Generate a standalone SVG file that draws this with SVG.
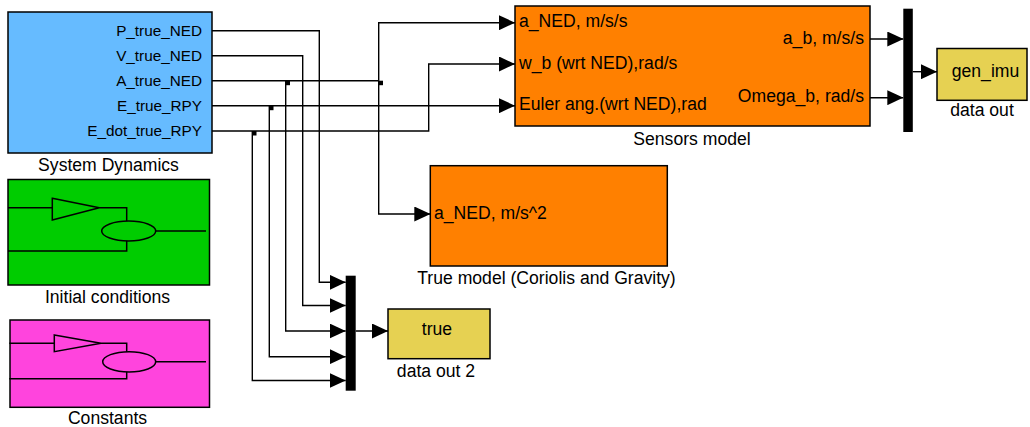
<svg xmlns="http://www.w3.org/2000/svg" width="1030" height="427" viewBox="0 0 1030 427">
  <style>
    text { font-family: "Liberation Sans", Arial, sans-serif; fill: #000; }
    .port { font-size: 15.3px; }
    .lbl { font-size: 17.6px; }
    .blk { stroke: #000; stroke-width: 1.5; }
    .wire { fill: none; stroke: #000; stroke-width: 1.4; }
    .arrow { fill: none; stroke: #000; stroke-width: 1.4; marker-end: url(#head); }
    .icon { fill: none; stroke: #000; stroke-width: 1.5; }
    .mux { fill: #000; }
    .dot { fill: #000; }
  </style>
  <defs>
    <marker id="head" markerUnits="userSpaceOnUse" markerWidth="16" markerHeight="15" refX="16" refY="7.5" orient="auto">
      <path d="M0,0 L16,7.5 L0,15 Z" fill="#000"/>
    </marker>
  </defs>

  <!-- System Dynamics subsystem -->
  <g id="system-dynamics">
    <rect class="blk" x="8" y="12" width="204" height="141" fill="#66BBFF"/>
    <text class="port" x="202" y="35.7" text-anchor="end">P_true_NED</text>
    <text class="port" x="202" y="61" text-anchor="end">V_true_NED</text>
    <text class="port" x="202" y="85.7" text-anchor="end">A_true_NED</text>
    <text class="port" x="202" y="110.7" text-anchor="end">E_true_RPY</text>
    <text class="port" x="202" y="135.7" text-anchor="end">E_dot_true_RPY</text>
    <text class="lbl" x="108.5" y="170.5" text-anchor="middle">System Dynamics</text>
  </g>

  <!-- Initial conditions subsystem -->
  <g id="initial-conditions">
    <rect class="blk" x="8" y="179.5" width="201.5" height="105.5" fill="#00CC00"/>
    <path class="icon" d="M8,207.7 H52.3 M52.3,198.3 L99.3,207.7 L52.3,220 Z M99.3,207.7 H126.7 V221 M8,251 H126.7 V241 M155.7,231 H206"/>
    <ellipse class="icon" cx="128.7" cy="231" rx="27" ry="10"/>
    <text class="lbl" x="107.5" y="303" text-anchor="middle">Initial conditions</text>
  </g>

  <!-- Constants subsystem -->
  <g id="constants">
    <rect class="blk" x="10" y="320" width="199.5" height="87.3" fill="#FF44DD"/>
    <path class="icon" d="M9.3,343.3 H54.3 M54.3,335 L101,343.3 L54.3,351.7 Z M101,343.3 H126.7 V351.7 M9.3,378.7 H126.7 V372 M155.7,361.8 H206"/>
    <ellipse class="icon" cx="129.2" cy="361.8" rx="26.5" ry="10.1"/>
    <text class="lbl" x="107.5" y="424" text-anchor="middle">Constants</text>
  </g>

  <!-- Sensors model subsystem -->
  <g id="sensors-model">
    <rect class="blk" x="515" y="6" width="355" height="120" fill="#FF8000"/>
    <text class="lbl" x="519" y="27">a_NED, m/s/s</text>
    <text class="lbl" x="519" y="68.5">w_b (wrt NED),rad/s</text>
    <text class="lbl" x="519" y="110">Euler ang.(wrt NED),rad</text>
    <text class="lbl" x="864" y="43.5" text-anchor="end">a_b, m/s/s</text>
    <text class="lbl" x="864" y="101.5" text-anchor="end">Omega_b, rad/s</text>
    <text class="lbl" x="692" y="145" text-anchor="middle">Sensors model</text>
  </g>

  <!-- True model subsystem -->
  <g id="true-model">
    <rect class="blk" x="430.3" y="165.7" width="237" height="100.3" fill="#FF8000"/>
    <text class="lbl" x="434" y="218.5">a_NED, m/s^2</text>
    <text class="lbl" x="546.5" y="284" text-anchor="middle">True model (Coriolis and Gravity)</text>
  </g>

  <!-- Mux feeding the true-state logger -->
  <g id="mux-true">
    <rect class="mux" x="345.7" y="275.7" width="10" height="115"/>
  </g>

  <!-- Mux feeding the IMU logger -->
  <g id="mux-imu">
    <rect class="mux" x="903.3" y="8.7" width="9.5" height="123.3"/>
  </g>

  <!-- To Workspace: true -->
  <g id="data-out-2">
    <rect class="blk" x="388" y="309" width="102" height="49.7" fill="#E6D152"/>
    <text class="lbl" x="437" y="335" text-anchor="middle">true</text>
    <text class="lbl" x="436" y="376.7" text-anchor="middle">data out 2</text>
  </g>

  <!-- To Workspace: gen_imu -->
  <g id="data-out">
    <rect class="blk" x="937" y="48.5" width="90" height="51.8" fill="#E6D152"/>
    <text class="lbl" x="985.5" y="76.5" text-anchor="middle">gen_imu</text>
    <text class="lbl" x="982" y="116" text-anchor="middle">data out</text>
  </g>

  <!-- Signal lines -->
  <g id="connectors">
    <path class="arrow" d="M212,30.7 H319.3 V282.3 H345.7"/>
    <path class="arrow" d="M212,55.7 H302.7 V305.5 H345.7"/>
    <path class="wire" d="M212,80.7 H378.7"/>
    <path class="arrow" d="M285.7,80.7 V331 H345.7"/>
    <path class="arrow" d="M378.7,80.7 V22.7 H515"/>
    <path class="arrow" d="M378.7,80.7 V214 H430.3"/>
    <path class="arrow" d="M212,105.7 H515"/>
    <path class="arrow" d="M269.3,105.7 V356.7 H345.7"/>
    <path class="arrow" d="M212,131 H428.7 V64 H515"/>
    <path class="arrow" d="M252.3,131 V380.5 H345.7"/>
    <path class="arrow" d="M870,39 H903.3"/>
    <path class="arrow" d="M870,97.7 H903.3"/>
    <path class="arrow" d="M912.8,71.7 H937"/>
    <path class="arrow" d="M355.7,331 H388"/>
    <rect class="dot" x="285.5" y="80.7" width="4.5" height="4.5"/>
    <rect class="dot" x="378.5" y="80.7" width="4.5" height="4.5"/>
    <rect class="dot" x="269" y="105.7" width="4.5" height="4.5"/>
    <rect class="dot" x="252" y="131" width="4.5" height="4.5"/>
  </g>
</svg>
